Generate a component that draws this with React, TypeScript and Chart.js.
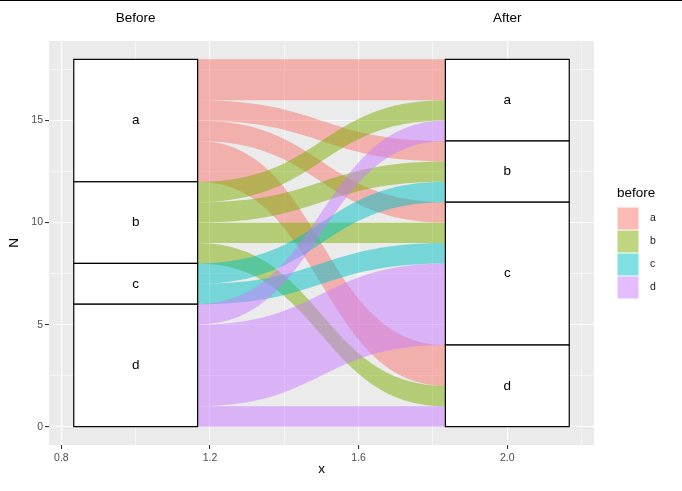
import React, { useEffect, useRef } from 'react';
import { Chart, registerables } from 'chart.js';
Chart.register(...registerables);

// ---- data ----
const strata = ['a', 'b', 'c', 'd'];
const axisNames = ['Before', 'After'];
const axisPositions = [1, 2];
const flowFrom = ['a', 'a', 'a', 'a', 'b', 'b', 'b', 'b', 'c', 'c', 'd', 'd', 'd'];
const flowTo = ['a', 'b', 'c', 'd', 'a', 'b', 'c', 'd', 'b', 'c', 'a', 'c', 'd'];
const flowCount = [2, 1, 1, 2, 1, 1, 1, 1, 1, 1, 1, 4, 1];
const fillColors = ['#F8766D', '#7CAE00', '#00BFC4', '#C77CFF'];
const xMajorTicks = [0.8, 1.2, 1.6, 2.0];
const xMinorTicks = [1.0, 1.4, 1.8, 2.2];
const yMajorTicks = [0, 5, 10, 15];
const yMinorTicks = [2.5, 7.5, 12.5, 17.5];
const legendTitle = 'before';

const FONT = '"Liberation Sans", Arial, sans-serif';
const STRATUM_W = 1 / 3;

function hexA(hex: string, a: number) {
  const r = parseInt(hex.slice(1, 3), 16);
  const g = parseInt(hex.slice(3, 5), 16);
  const b = parseInt(hex.slice(5, 7), 16);
  return `rgba(${r},${g},${b},${a})`;
}

function computeLayout() {
  const total = flowCount.reduce((s, v) => s + v, 0);
  const stack = (keyArr: string[]) => {
    const tops: Record<string, number> = {};
    const bots: Record<string, number> = {};
    let cur = total;
    strata.forEach((s) => {
      const t = keyArr.reduce((acc, k, i) => acc + (k === s ? flowCount[i] : 0), 0);
      tops[s] = cur;
      bots[s] = cur - t;
      cur -= t;
    });
    return { tops, bots };
  };
  const left = stack(flowFrom);
  const right = stack(flowTo);
  const n = flowCount.length;
  const lTop = new Array(n).fill(0);
  const rTop = new Array(n).fill(0);
  strata.forEach((s) => {
    const idx = flowFrom.map((f, i) => i).filter((i) => flowFrom[i] === s);
    idx.sort((p, q) => strata.indexOf(flowTo[p]) - strata.indexOf(flowTo[q]) || p - q);
    let cur = left.tops[s];
    idx.forEach((i) => { lTop[i] = cur; cur -= flowCount[i]; });
    const idx2 = flowTo.map((f, i) => i).filter((i) => flowTo[i] === s);
    idx2.sort((p, q) => strata.indexOf(flowFrom[p]) - strata.indexOf(flowFrom[q]) || p - q);
    let cur2 = right.tops[s];
    idx2.forEach((i) => { rTop[i] = cur2; cur2 -= flowCount[i]; });
  });
  return { left, right, lTop, rTop };
}

const alluvialPlugin = {
  id: 'alluvial',
  beforeDraw(chart: any) {
    const { ctx, chartArea: a, width, height } = chart;
    ctx.save();
    ctx.fillStyle = '#FFFFFF';
    ctx.fillRect(0, 0, width, height);
    ctx.fillStyle = '#EBEBEB';
    ctx.fillRect(a.left, a.top, a.right - a.left, a.bottom - a.top);
    ctx.fillStyle = '#000000';
    ctx.fillRect(0, 0, width, 1);
    ctx.restore();
  },
  afterDatasetsDraw(chart: any) {
    const { ctx } = chart;
    const xs = chart.scales.x;
    const ys = chart.scales.y;
    const L = computeLayout();
    const x0 = xs.getPixelForValue(axisPositions[0] + STRATUM_W / 2);
    const x1 = xs.getPixelForValue(axisPositions[1] - STRATUM_W / 2);
    const dx = x1 - x0;
    ctx.save();
    // flows
    flowCount.forEach((c, i) => {
      const yl0 = ys.getPixelForValue(L.lTop[i]);
      const yl1 = ys.getPixelForValue(L.lTop[i] - c);
      const yr0 = ys.getPixelForValue(L.rTop[i]);
      const yr1 = ys.getPixelForValue(L.rTop[i] - c);
      ctx.beginPath();
      ctx.moveTo(x0, yl0);
      ctx.bezierCurveTo(x0 + dx * 0.5, yl0, x1 - dx * 0.5, yr0, x1, yr0);
      ctx.lineTo(x1, yr1);
      ctx.bezierCurveTo(x1 - dx * 0.5, yr1, x0 + dx * 0.5, yl1, x0, yl1);
      ctx.closePath();
      ctx.fillStyle = hexA(fillColors[strata.indexOf(flowFrom[i])], 0.5);
      ctx.fill();
    });
    // strata
    const sides = [L.left, L.right];
    sides.forEach((side, k) => {
      const xa = xs.getPixelForValue(axisPositions[k] - STRATUM_W / 2);
      const xb = xs.getPixelForValue(axisPositions[k] + STRATUM_W / 2);
      strata.forEach((s) => {
        if (side.tops[s] === side.bots[s]) return;
        const ya = ys.getPixelForValue(side.tops[s]);
        const yb = ys.getPixelForValue(side.bots[s]);
        ctx.fillStyle = '#FFFFFF';
        ctx.fillRect(xa, ya, xb - xa, yb - ya);
        ctx.strokeStyle = '#000000';
        ctx.lineWidth = 1.2;
        ctx.strokeRect(xa, ya, xb - xa, yb - ya);
      });
    });
    sides.forEach((side, k) => {
      const xc = xs.getPixelForValue(axisPositions[k]);
      strata.forEach((s) => {
        if (side.tops[s] === side.bots[s]) return;
        const yc = ys.getPixelForValue((side.tops[s] + side.bots[s]) / 2);
        ctx.fillStyle = '#000000';
        ctx.font = `13.5px ${FONT}`;
        ctx.textAlign = 'center';
        ctx.textBaseline = 'middle';
        ctx.fillText(s, xc, yc);
      });
    });
    // legend
    const lx = 617;
    const ly = 207;
    const key = 23;
    ctx.fillStyle = '#000000';
    ctx.font = `13.5px ${FONT}`;
    ctx.textAlign = 'left';
    ctx.textBaseline = 'middle';
    ctx.fillText(legendTitle, lx, 193);
    strata.forEach((s, i) => {
      const y = ly + i * key;
      ctx.fillStyle = '#FFFFFF';
      ctx.fillRect(lx, y, 22, key);
      ctx.fillStyle = hexA(fillColors[i], 0.5);
      ctx.fillRect(lx + 0.5, y + 0.5, 21, key - 1);
      ctx.fillStyle = '#1A1A1A';
      ctx.font = `10.5px ${FONT}`;
      ctx.fillText(s, lx + 33, y + key / 2);
    });
    ctx.restore();
  },
};

export default function App() {
  const ref = useRef<HTMLCanvasElement>(null);
  useEffect(() => {
    document.body.style.margin = '0';
    const xAll = [...xMajorTicks, ...xMinorTicks].sort((a, b) => a - b);
    const yAll = [...yMajorTicks, ...yMinorTicks].sort((a, b) => a - b);
    const chart = new Chart(ref.current as HTMLCanvasElement, {
      type: 'scatter',
      data: { datasets: [{ data: [], showLine: false }] },
      options: {
        animation: false,
        responsive: false,
        devicePixelRatio: 1,
        layout: { padding: { left: 0, right: 88, top: 0, bottom: 14 } },
        plugins: { legend: { display: false }, tooltip: { enabled: false } },
        scales: {
          x: {
            type: 'linear',
            position: 'bottom',
            min: 0.7667,
            max: 2.2333,
            afterBuildTicks: (s: any) => { s.ticks = xAll.map((v) => ({ value: v })); },
            afterFit: (s: any) => { s.height = 32; },
            border: { display: false },
            grid: {
              color: '#FFFFFF',
              lineWidth: (c: any) => (c.tick && xMajorTicks.includes(c.tick.value) ? 1.1 : 0.55),
              tickColor: (c: any) => (c.tick && xMajorTicks.includes(c.tick.value) ? '#333333' : 'rgba(0,0,0,0)'),
              tickLength: 4,
              tickWidth: 1.1,
            },
            ticks: {
              color: '#4D4D4D',
              font: { size: 10.5, family: FONT },
              padding: 3,
              maxRotation: 0,
              autoSkip: false,
              callback: (v: any) => (xMajorTicks.includes(v) ? Number(v).toFixed(1) : ''),
            },
            title: { display: true, text: 'x', color: '#000000', font: { size: 13.5, family: FONT }, padding: { top: 0, bottom: 0 } },
          },
          xTop: {
            type: 'linear',
            position: 'top',
            min: 0.7667,
            max: 2.2333,
            afterBuildTicks: (s: any) => { s.ticks = axisPositions.map((v) => ({ value: v })); },
            afterFit: (s: any) => { s.height = 41; },
            border: { display: false },
            grid: { display: false, drawTicks: false, tickLength: 0 },
            ticks: {
              color: '#000000',
              font: { size: 13.5, family: FONT },
              padding: 15,
              maxRotation: 0,
              autoSkip: false,
              callback: (v: any) => axisNames[axisPositions.indexOf(v)] ?? '',
            },
          },
          y: {
            type: 'linear',
            min: -0.9,
            max: 18.9,
            afterBuildTicks: (s: any) => { s.ticks = yAll.map((v) => ({ value: v })); },
            afterFit: (s: any) => { s.width = 49; },
            border: { display: false },
            grid: {
              color: '#FFFFFF',
              lineWidth: (c: any) => (c.tick && yMajorTicks.includes(c.tick.value) ? 1.1 : 0.55),
              tickColor: (c: any) => (c.tick && yMajorTicks.includes(c.tick.value) ? '#333333' : 'rgba(0,0,0,0)'),
              tickLength: 4,
              tickWidth: 1.1,
            },
            ticks: {
              color: '#4D4D4D',
              font: { size: 10.5, family: FONT },
              padding: 2,
              autoSkip: false,
              callback: (v: any) => (yMajorTicks.includes(v) ? String(v) : ''),
            },
            title: { display: true, text: 'N', color: '#000000', font: { size: 13.5, family: FONT }, padding: { top: 6, bottom: 0 } },
          },
        },
      },
      plugins: [alluvialPlugin],
    } as any);
    return () => chart.destroy();
  }, []);
  return (
    <div style={{ position: 'fixed', left: 0, top: 0, width: 682, height: 491 }}>
      <canvas ref={ref} width={682} height={491} style={{ width: 682, height: 491, display: 'block' }} />
    </div>
  );
}
